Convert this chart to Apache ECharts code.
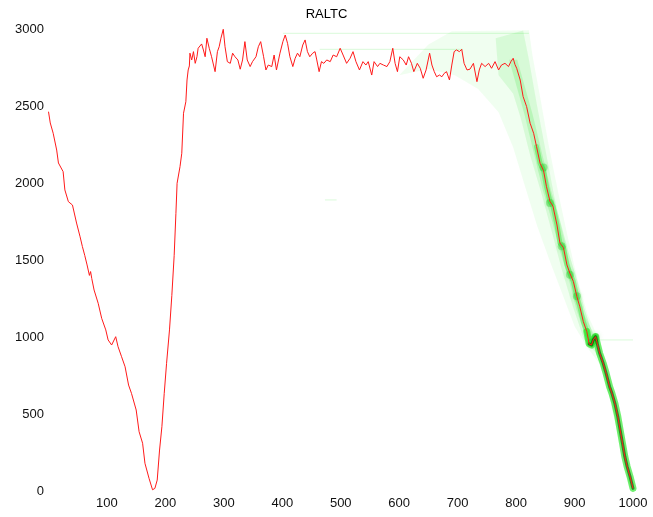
<!DOCTYPE html>
<html>
<head>
<meta charset="utf-8">
<script src="https://cdn.jsdelivr.net/npm/echarts@6/dist/echarts.min.js"></script>
<style>html,body{margin:0;padding:0;background:#fff}#c{width:653px;height:517px}</style>
</head>
<body>
<div id="c"></div>
<script>
var titleText = 'RALTC';
var xTicks = [0, 100, 200, 300, 400, 500, 600, 700, 800, 900, 1000];
var yTicks = [0, 500, 1000, 1500, 2000, 2500, 3000];

var lineX = [0,3,8,14,17,25,28,34,41,48,54,58,62,66,70,72,74,78,85,91,98,102,108,111,115,119,125,131,133,137,142,150,155,161,165,172,178,182,186,190,194,198,202,207,211,215,218,220,225,228,231,235,237,239,241,242,245,248,251,254,256,262,265,268,271,275,279,285,289,292,295,299,302,306,311,315,319,324,328,332,336,340,345,349,355,359,363,368,372,376,382,386,390,396,401,405,409,413,418,422,426,430,435,439,443,447,452,456,459,463,467,471,476,482,487,493,499,504,510,516,521,526,532,538,543,547,553,557,563,567,573,579,584,589,593,597,601,607,612,616,621,625,631,636,641,646,652,656,660,664,669,673,677,681,686,690,694,698,703,707,711,716,721,727,733,737,741,747,753,758,764,770,775,781,787,791,795,798,801,807,812,818,824,830,835,841,847,852,858,863,870,875,881,887,892,898,904,909,915,921,925,929,932,936,938,943,949,954,960,964,969,974,978,982,986,990,995,1000];
var lineY = [2463,2390,2323,2214,2130,2074,1955,1879,1857,1740,1651,1587,1530,1468,1400,1425,1380,1305,1219,1121,1046,981,948,940,1002,937,872,807,800,688,634,526,385,310,180,82,8,17,71,266,418,634,829,1046,1270,1528,1803,1998,2106,2193,2453,2528,2669,2734,2760,2843,2799,2853,2777,2820,2875,2903,2864,2820,2940,2875,2820,2723,2853,2885,2940,2998,2885,2788,2777,2843,2820,2799,2739,2799,2918,2799,2756,2788,2820,2885,2918,2820,2734,2766,2756,2831,2734,2843,2918,2961,2907,2820,2756,2810,2843,2820,2896,2929,2853,2820,2843,2853,2799,2723,2788,2777,2799,2788,2831,2820,2875,2831,2777,2810,2853,2788,2734,2788,2766,2788,2701,2788,2756,2777,2766,2756,2788,2875,2777,2723,2820,2799,2766,2820,2777,2723,2777,2745,2680,2734,2843,2766,2723,2690,2701,2690,2712,2723,2669,2766,2853,2864,2853,2868,2777,2734,2739,2777,2658,2734,2777,2756,2777,2745,2788,2734,2766,2777,2756,2788,2810,2770,2745,2669,2561,2496,2388,2323,2236,2128,2080,1976,1880,1850,1727,1610,1580,1468,1414,1360,1262,1197,1100,1035,955,948,981,1002,970,894,829,764,677,634,569,483,396,310,223,158,93,17];

// green ensemble cloud outlines [x, value]
var cloudOuter = [[600,2700],[650,2900],[690,2985],[822,2992],[828,2830],[842,2540],[856,2240],[872,1940],[889,1640],[904,1390],[922,1150],[942,980],[958,760],[972,550],[988,290],[1001,0],[992,60],[978,340],[960,620],[942,830],[922,930],[900,1070],[878,1290],[857,1500],[836,1720],[815,1980],[795,2230],[770,2460],[735,2610],[695,2700],[650,2740]];
var cloudMid = [[765,2940],[812,2990],[822,2800],[836,2500],[851,2200],[866,1900],[881,1650],[897,1400],[914,1160],[936,1000],[952,790],[968,600],[984,320],[1001,0],[994,30],[981,260],[966,500],[951,760],[936,900],[916,985],[897,1200],[878,1440],[860,1700],[842,1950],[824,2180],[808,2420],[795,2580],[770,2700]];
var cloudInner = [[802,2800],[828,2450],[844,2200],[860,1950],[875,1760],[889,1560],[905,1360],[917,1180],[932,1010],[942,970],[936,940],[918,1010],[903,1180],[891,1360],[875,1560],[861,1760],[846,1950],[830,2200],[814,2450],[788,2800]];
var blobs = [[847,2100],[858,1870],[878,1590],[892,1405],[904,1265],[929,965],[936,1000]];
var faintLines = [[[401,2972],[822,2972]],[[464,2868],[709,2868]],[[473,1890],[493,1890]],[[938,981],[1000,981]]];

var pts = lineX.map(function (x, i) { return [x, lineY[i]]; });
var glowPts = pts.filter(function (p) { return p[0] >= 832 && p[0] <= 940; });
var lowGlowPts = pts.filter(function (p) { return p[0] >= 918; });
var corePts = pts.filter(function (p) { return p[0] >= 925; });

function polySeries(poly, color, z) {
  return {
    type: 'custom', z: z, silent: true, clip: true,
    data: [[poly[0][0], poly[0][1]]],
    renderItem: function (params, api) {
      return {
        type: 'polygon',
        shape: { points: poly.map(function (p) { return api.coord(p); }) },
        style: { fill: color, stroke: null }
      };
    }
  };
}
function plain(v) { return String(v); }

var chart = echarts.init(document.getElementById('c'), null, { renderer: 'canvas' });
var series = [
  polySeries(cloudOuter, 'rgba(0,230,0,0.06)', 1),
  polySeries(cloudMid, 'rgba(0,220,0,0.10)', 2),
  polySeries(cloudInner, 'rgba(0,220,0,0.14)', 2)
];
faintLines.forEach(function (seg) {
  series.push({ type: 'line', data: seg, symbol: 'none', silent: true, z: 2,
    lineStyle: { color: 'rgba(0,220,0,0.15)', width: 1 } });
});
series.push({ type: 'scatter', data: blobs, symbol: 'circle', symbolSize: 8, silent: true, z: 3,
  itemStyle: { color: 'rgba(0,190,0,0.35)', shadowBlur: 5, shadowColor: 'rgba(0,200,0,0.5)' } });
series.push({ type: 'line', data: glowPts, symbol: 'none', silent: true, z: 3,
  lineStyle: { color: 'rgba(0,220,0,0.30)', width: 5, join: 'round', cap: 'round' } });
series.push({ type: 'line', data: lowGlowPts, symbol: 'none', silent: true, z: 3,
  lineStyle: { color: 'rgba(20,230,20,0.6)', width: 7, join: 'round', cap: 'round' } });
series.push({ type: 'line', data: corePts, symbol: 'none', silent: true, z: 4,
  lineStyle: { color: 'rgba(0,70,0,0.6)', width: 3, join: 'round', cap: 'round' } });
series.push({ type: 'line', data: pts, symbol: 'none', silent: true, z: 5,
  lineStyle: { color: '#ff1a1a', width: 1 } });

chart.setOption({
  animation: false,
  backgroundColor: '#ffffff',
  title: { text: titleText, left: 'center', top: 3,
    textStyle: { fontSize: 13, fontWeight: 'normal', color: '#000', fontFamily: 'Liberation Sans' } },
  grid: { left: 48.5, right: 20, top: 29, bottom: 26 },
  xAxis: {
    type: 'value', min: xTicks[0], max: xTicks[xTicks.length - 1], interval: xTicks[1] - xTicks[0],
    axisLine: { show: false }, axisTick: { show: false }, splitLine: { show: false },
    axisLabel: { showMinLabel: false, margin: 6, fontSize: 13, color: '#111', fontFamily: 'Liberation Sans', formatter: plain }
  },
  yAxis: {
    type: 'value', min: yTicks[0], max: yTicks[yTicks.length - 1], interval: yTicks[1] - yTicks[0],
    axisLine: { show: false }, axisTick: { show: false }, splitLine: { show: false },
    axisLabel: { margin: 4.5, fontSize: 13, color: '#111', fontFamily: 'Liberation Sans', formatter: plain }
  },
  series: series
});
</script>
</body>
</html>
